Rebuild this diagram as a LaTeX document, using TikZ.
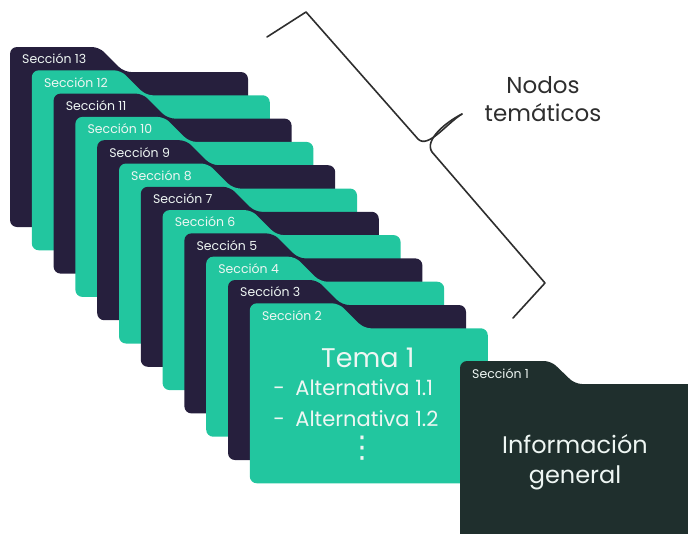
\documentclass[tikz,border=0pt]{standalone}
\usepackage{fontspec}
\setmainfont{Poppins}
\newfontfamily\simbolos{DejaVu Sans}
\usetikzlibrary{calc}
\definecolor{navy}{HTML}{261F3D}
\definecolor{menta}{HTML}{22C69F}
\definecolor{pizarra}{HTML}{1F2F2D}
\definecolor{tinta}{HTML}{2E2E2E}
\definecolor{claro}{HTML}{EEF6F3}
\tikzset{>=latex}
\tikzset{carpeta/.style = {rounded corners = 7pt},
etiqueta/.style = {anchor = west, inner sep = 0pt, text = claro, font = \fontsize{12.5}{14}\selectfont}}

\begin{document}
\begin{tikzpicture}[x = 1pt, y = -1pt]
\useasboundingbox (0,0) rectangle (688,533);
\clip (0,0) rectangle (688,533);
\foreach \i in {13,...,2}{
  \pgfmathsetmacro{\xo}{10 + (13-\i)*21.8}
  \pgfmathsetmacro{\yo}{47 + (13-\i)*23.3}
  \pgfmathtruncatemacro{\paridad}{mod(\i,2)}
  \ifnum\paridad=1 \def\tono{navy}\else\def\tono{menta}\fi
  \fill[\tono, carpeta] (\xo,\yo) ++(0,90) -- ++(0,-90) -- ++(89,0) -- ++(25,25) -- ++(124,0) -- ++(0,155) -- ++(-238,0) -- cycle;
  \node[etiqueta] (sec\i) at (\xo+12, \yo+12) {Sección \i};
}
\coordinate (c2) at (249.8,303.3);
\node[text = claro, font = \fontsize{27}{30}\selectfont] (tema) at ($(c2)+(118,55)$) {Tema 1};
\node[anchor = west, text = claro, font = \fontsize{21}{23}\selectfont] (alt1) at ($(c2)+(20,84)$) {-\enspace Alternativa 1.1};
\node[anchor = west, text = claro, font = \fontsize{21}{23}\selectfont] (alt2) at ($(c2)+(20,115)$) {-\enspace Alternativa 1.2};
\node[text = claro, inner sep = 0pt, font = \simbolos\fontsize{30}{30}\selectfont] (puntos) at ($(c2)+(113,145)$) {⋮};

\fill[pizarra, carpeta] (460,361) ++(0,90) -- ++(0,-90) -- ++(91,0) -- ++(24,23) -- ++(123,0) -- ++(0,157) -- ++(-238,0) -- cycle;
\node[etiqueta] (sec1) at (472,374) {Sección 1};
\node[align = center, text = claro, font = \fontsize{24}{30}\selectfont] (info) at (575,462) {Información\\general};

\draw[tinta, line width = 1.6pt, line join = round, line cap = round] (267,37) -- (306,12) -- (418,139) .. controls (428,149) and (446,124) .. (462,114);
\draw[tinta, line width = 1.6pt, line join = round, line cap = round] (462,114) .. controls (446,122) and (424,140) .. (432,152) -- (545,283) -- (513,318);
\node[align = center, text = tinta, font = \fontsize{23}{28}\selectfont] (nodos) at (543,99) {Nodos\\temáticos};
\end{tikzpicture}
\end{document}
